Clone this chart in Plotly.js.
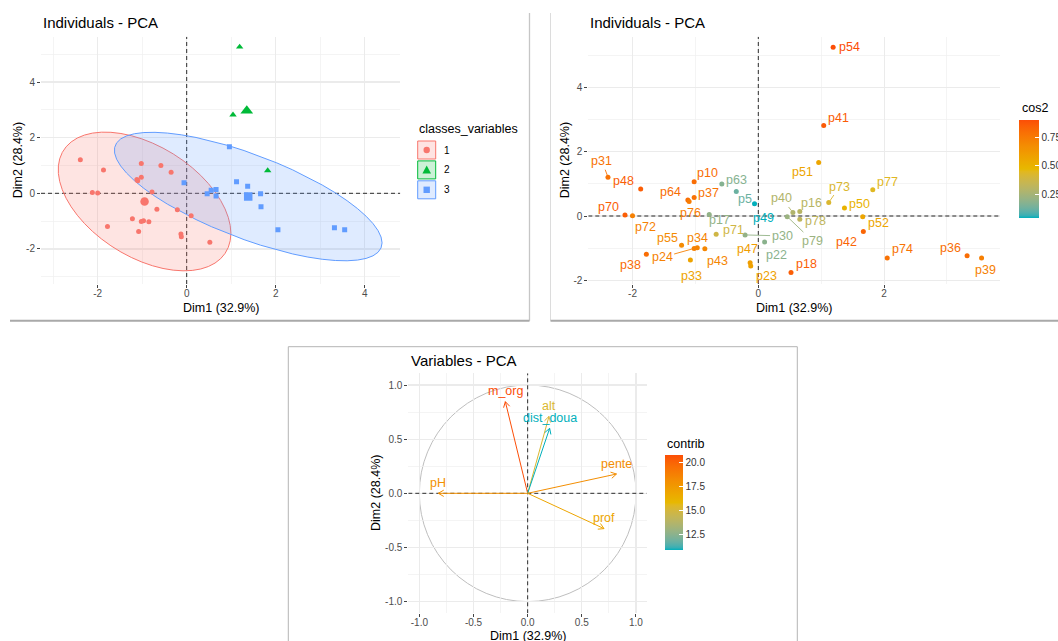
<!DOCTYPE html>
<html><head><meta charset="utf-8">
<script src="https://cdn.plot.ly/plotly-3.0.1.min.js"></script>
<style>html,body{margin:0;padding:0;background:#fff}#chart{width:1058px;height:641px}</style>
</head><body><div id="chart"></div>
<script>
// ---------- DATA ----------
const indNames = ['p54','p41','p77','p51','p31','p48','p10','p63','p64','p76','p37','p5','p49','p70','p72','p17','p40','p16','p73','p50','p52','p42','p78','p79','p71','p30','p22','p55','p34','p24','p43','p38','p33','p47','p23','p18','p74','p36','p39'];
const indDim1 = [1.19,1.04,1.82,0.96,-2.39,-1.87,-1.02,-0.58,-1.12,-1.10,-1.02,-0.35,-0.06,-2.12,-2.00,-0.78,0.55,0.66,1.12,1.37,1.66,1.67,0.66,0.46,-0.67,-0.21,0.10,-1.22,-0.97,-1.02,-0.85,-1.78,-1.08,-0.13,-0.12,0.52,2.05,3.32,3.55];
const indDim2 = [5.26,2.82,0.82,1.67,1.21,0.84,1.07,1.00,0.50,0.45,0.58,0.76,0.38,0.03,0.01,0.05,0.11,0.14,0.42,0.25,-0.02,-0.48,-0.10,-0.02,-0.57,-0.59,-0.81,-0.91,-0.99,-1.01,-1.02,-1.19,-1.37,-1.46,-1.56,-1.76,-1.31,-1.24,-1.31];
const indCos2 = [0.90,0.86,0.44,0.56,0.78,0.85,0.80,0.17,0.80,0.74,0.78,0.12,0.04,0.85,0.72,0.20,0.28,0.30,0.42,0.50,0.56,0.83,0.32,0.22,0.38,0.20,0.18,0.68,0.71,0.72,0.70,0.80,0.57,0.60,0.58,0.85,0.78,0.80,0.73];
const indClass = ['2','2','2','3','1','1','1','1','1','1','1','1','3','1','1','1','3','3','3','3','3','3','3','3','1','1','1','1','1','1','1','1','1','1','1','1','3','3','3'];
const classLevels = ['1','2','3'];

const varNames = ['m_org','alt','dist_doua','pente','pH','prof'];
const varDim1 = [-0.206,0.197,0.203,0.820,-0.825,0.705];
const varDim2 = [0.846,0.710,0.600,0.178,0.000,-0.326];
const varContrib = [20.76,15.29,10.95,18.10,18.00,16.90];

const indXTicks = [-2,0,2,4];
const indYTicks = [-2,0,2,4];
const ind2XTicks = [-2,0,2];
const intMinor = [-3,-1,1,3,5];
const varTicks = [-1,-0.5,0,0.5,1];
const varMinor = [-0.75,-0.25,0.25,0.75];
const cos2Ticks = [0.25,0.5,0.75];
const contribTicks = [12.5,15,17.5,20];
const titleInd = 'Individuals - PCA', titleVar = 'Variables - PCA';
const xTitle = 'Dim1 (32.9%)', yTitle = 'Dim2 (28.4%)';
const legendTitle = 'classes_variables', cos2Title = 'cos2', contribTitle = 'contrib';

// ---------- STYLE ----------
const W = 1058, H = 641;
const FONT = 'Liberation Sans, Arial, sans-serif';
const fx = p => p / W, fy = p => 1 - p / H;
const classColors = {'1':'#F8766D','2':'#00BA38','3':'#619CFF'};
const classSymbols = {'1':'circle','2':'triangle-up','3':'square'};
const classSizes = {'1':5,'2':6.5,'3':5};
const grad = ['#00AFBB','#E7B800','#FC4E07'];

// Lab interpolation (as ggplot's gradientn)
function hex2rgb(h){return [parseInt(h.slice(1,3),16),parseInt(h.slice(3,5),16),parseInt(h.slice(5,7),16)];}
const s2l = c => {c/=255; return c<=0.04045?c/12.92:Math.pow((c+0.055)/1.055,2.4);};
const l2s = c => {c=Math.max(0,Math.min(1,c)); return 255*(c<=0.0031308?12.92*c:1.055*Math.pow(c,1/2.4)-0.055);};
function rgb2lab(rgb){
  const [R,G,B]=rgb.map(s2l);
  const X=(0.4124*R+0.3576*G+0.1805*B)/0.95047, Y=(0.2126*R+0.7152*G+0.0722*B), Z=(0.0193*R+0.1192*G+0.9505*B)/1.08883;
  const f=t=>t>0.008856?Math.cbrt(t):7.787*t+16/116;
  const fX=f(X), fY=f(Y), fZ=f(Z);
  return [116*fY-16, 500*(fX-fY), 200*(fY-fZ)];
}
function lab2rgb([L,a,b]){
  const fY=(L+16)/116, fX=fY+a/500, fZ=fY-b/200;
  const fi=t=>t>0.206893?t*t*t:(t-16/116)/7.787;
  const X=fi(fX)*0.95047, Y=fi(fY), Z=fi(fZ)*1.08883;
  const R= 3.2406*X-1.5372*Y-0.4986*Z, G=-0.9689*X+1.8758*Y+0.0415*Z, B=0.0557*X-0.2040*Y+1.0570*Z;
  return [R,G,B].map(l2s).map(Math.round);
}
const gradLab = grad.map(h=>rgb2lab(hex2rgb(h)));
function colorT(t){
  t=Math.max(0,Math.min(1,t));
  const seg = t<0.5?0:1, u=(t-seg*0.5)/0.5;
  const A=gradLab[seg], B=gradLab[seg+1];
  const c = lab2rgb(A.map((x,i)=>x+(B[i]-x)*u));
  return 'rgb('+c.join(',')+')';
}
const colorscale = Array.from({length:41},(_,i)=>[i/40, colorT(i/40)]);
function rgba(h,a){const c=hex2rgb(h);return 'rgba('+c.join(',')+','+a+')';}
const fmtHyphen = v => String(v);
const fmt1 = v => v.toFixed(1);
const fmt2 = v => v.toFixed(2);

function axis(domain, range, ticks, minor, anchor, fmt){
  return {domain, range, anchor, autorange:false, fixedrange:true,
    tickmode:'array', tickvals:ticks, ticktext:ticks.map(fmt),
    showgrid:true, gridcolor:'#EBEBEB', gridwidth:1.1,
    minor:{tickmode:'array', tickvals:minor, showgrid:true, gridcolor:'#EFEFEF', gridwidth:0.7, ticks:''},
    zeroline:false, showline:false, ticks:'outside', ticklen:3, tickwidth:1, tickcolor:'#444',
    tickfont:{size:10, color:'#4D4D4D', family:FONT}};
}
const ranges = {
  x:[-3.274,4.80], y:[-3.26,5.63],
  x2:[-2.703,3.843], y2:[-2.12,5.59],
  x3:[-1.102,1.099], y3:[-1.108,1.108]
};

// ---------- TRACES ----------
const traces = [];
const n = indNames.length;
function qf2(p, m){ return (m/2)*(Math.pow(1-p,-2/m)-1); } // F(2,m) quantile

// dashed reference lines (geom_hline / geom_vline at 0)
const dashLine = {color:'rgba(0,0,0,0.82)', width:1, dash:'4px,3px'};
function refLines(xa, ya){
  const xr=ranges[xa], yr=ranges[ya];
  traces.push({type:'scatter', mode:'lines', x:[xr[0],xr[1],null,0,0], y:[0,0,null,yr[0],yr[1]],
    xaxis:xa, yaxis:ya, line:dashLine, hoverinfo:'skip', showlegend:false});
}
refLines('x','y');

// Panel 1 : ellipses (stat_ellipse type norm, level .95)
classLevels.forEach(c=>{
  const xs=[], ys=[];
  for(let i=0;i<n;i++) if(indClass[i]===c){xs.push(indDim1[i]); ys.push(indDim2[i]);}
  const k = xs.length;
  if(k<4) return;
  const mx = xs.reduce((a,b)=>a+b,0)/k, my = ys.reduce((a,b)=>a+b,0)/k;
  let sxx=0,syy=0,sxy=0;
  for(let i=0;i<k;i++){sxx+=(xs[i]-mx)**2; syy+=(ys[i]-my)**2; sxy+=(xs[i]-mx)*(ys[i]-my);}
  sxx/=k-1; syy/=k-1; sxy/=k-1;
  const a = Math.sqrt(sxx), b = sxy/a, d = Math.sqrt(syy - b*b);
  const r = Math.sqrt(2*qf2(0.95, k-1));
  const ex=[], ey=[];
  for(let j=0;j<=51;j++){
    const th = 2*Math.PI*j/51, u=Math.cos(th), v=Math.sin(th);
    ex.push(mx + r*(u*a)); ey.push(my + r*(u*b + v*d));
  }
  traces.push({type:'scatter', mode:'lines', x:ex, y:ey, xaxis:'x', yaxis:'y', fill:'toself',
    fillcolor:rgba(classColors[c],0.2), line:{color:classColors[c], width:1}, hoverinfo:'skip', showlegend:false});
});
// Panel 1 : points and group means
classLevels.forEach(c=>{
  const xs=[], ys=[];
  for(let i=0;i<n;i++) if(indClass[i]===c){xs.push(indDim1[i]); ys.push(indDim2[i]);}
  traces.push({type:'scatter', mode:'markers', x:xs, y:ys, xaxis:'x', yaxis:'y', showlegend:false,
    marker:{color:classColors[c], symbol:classSymbols[c], size:classSizes[c], line:{width:0}}});
  const mx = xs.reduce((a,b)=>a+b,0)/xs.length, my = ys.reduce((a,b)=>a+b,0)/ys.length;
  traces.push({type:'scatter', mode:'markers', x:[mx], y:[my], xaxis:'x', yaxis:'y', showlegend:false,
    marker:{color:classColors[c], symbol:classSymbols[c], size:classSizes[c]*1.7, line:{width:0}}});
});
// Panel 2
refLines('x2','y2');
const cLo = Math.min(...indCos2), cHi = Math.max(...indCos2);
const cbCommon = {xpad:0, ypad:0, outlinewidth:0, ticks:'inside', ticklen:4, tickwidth:1, tickcolor:'#ffffff',
  tickmode:'array', tickprefix:'\u00A0\u00A0', tickfont:{size:10,color:'#333',family:FONT}, lenmode:'pixels', thicknessmode:'pixels', xanchor:'left', yanchor:'top'};
traces.push({type:'scatter', mode:'markers', x:indDim1, y:indDim2, xaxis:'x2', yaxis:'y2', showlegend:false,
  marker:{size:5, color:indCos2, colorscale:colorscale, cmin:cLo, cmax:cHi, showscale:true, line:{width:0},
  colorbar:Object.assign({}, cbCommon, {x:fx(1019.3), y:fy(120), len:98, thickness:19.5, tickvals:cos2Ticks, ticktext:cos2Ticks.map(fmt2)})}});
// Panel 3
refLines('x3','y3');
const vLo = Math.min(...varContrib), vHi = Math.max(...varContrib);
const headLen = 0.058, headAng = Math.PI/6;
for(let i=0;i<varNames.length;i++){
  const xt=varDim1[i], yt=varDim2[i], th=Math.atan2(yt,xt);
  const col = colorT((varContrib[i]-vLo)/(vHi-vLo));
  traces.push({type:'scatter', mode:'lines', xaxis:'x3', yaxis:'y3', showlegend:false, hoverinfo:'skip',
    x:[0, xt, null, xt-headLen*Math.cos(th+headAng), xt, xt-headLen*Math.cos(th-headAng)],
    y:[0, yt, null, yt-headLen*Math.sin(th+headAng), yt, yt-headLen*Math.sin(th-headAng)],
    line:{color:col, width:1}});
}
traces.push({type:'scatter', mode:'markers', x:varDim1, y:varDim2, xaxis:'x3', yaxis:'y3', showlegend:false, hoverinfo:'skip',
  marker:{size:0.1, opacity:0.01, color:varContrib, colorscale:colorscale, cmin:vLo, cmax:vHi, showscale:true,
  colorbar:Object.assign({}, cbCommon, {x:fx(665.3), y:fy(455), len:95, thickness:18, tickvals:contribTicks, ticktext:contribTicks.map(fmt1)})}});

// ---------- ANNOTATIONS ----------
const ann = [];
// label placement (pixel offsets: right, down; 1 = repel segment)
const labelOffsets = {p54:[16,0],p41:[15,-8],p51:[-16,10],p31:[-6,-16,1],p48:[-17,-8],p10:[13,-9],p63:[15,-4],p64:[-17,-8],
  p76:[1,11],p37:[14,-4],p5:[9,7],p49:[9,14],p70:[-16,-8],p72:[13,11],p17:[10,6],p40:[-11,-14,1],p16:[12,-9],p73:[11,-16,1],
  p77:[15,-8],p50:[15,-4],p52:[16,6],p42:[-17,11],p78:[16,2],p79:[25,24,1],p71:[17,-4],p30:[37,1,1],p22:[12,13],p55:[-14,-7],
  p34:[0,-10],p24:[-32,9,1],p43:[13,12],p38:[-16,11],p33:[1,16],p47:[-3,-14],p23:[16,10],p18:[15,-8],p74:[15,-9],p36:[-17,-8],p39:[4,12]};
for(let i=0;i<n;i++){
  const o = labelOffsets[indNames[i]] || [0,-10];
  const col = colorT((indCos2[i]-cLo)/(cHi-cLo));
  const base = {x:indDim1[i], y:indDim2[i], xref:'x2', yref:'y2', text:indNames[i], font:{size:12.5,color:col,family:FONT}};
  if(o[2]) ann.push(Object.assign(base,{showarrow:true, ax:o[0], ay:o[1], arrowhead:0, arrowwidth:0.9, arrowcolor:col, standoff:2}));
  else ann.push(Object.assign(base,{showarrow:false, xshift:o[0], yshift:-o[1], xanchor:'center', yanchor:'middle'}));
}
for(let i=0;i<varNames.length;i++){
  const col = colorT((varContrib[i]-vLo)/(vHi-vLo));
  ann.push({x:varDim1[i], y:varDim2[i], xref:'x3', yref:'y3', text:varNames[i], showarrow:false, yshift:10.5,
    xanchor:'center', yanchor:'middle', font:{size:12.5,color:col,family:FONT}});
}
const T = (text,x,y,size,opts) => Object.assign({text, x:fx(x), y:fy(y), xref:'paper', yref:'paper', showarrow:false,
  xanchor:'center', yanchor:'middle', font:{size, color:'#000', family:FONT}}, opts||{});
ann.push(T(titleInd,41,22.5,15,{xanchor:'left'}));
ann.push(T(titleInd,588.3,22,15,{xanchor:'left'}));
ann.push(T(titleVar,408.8,360,15,{xanchor:'left'}));
ann.push(T(xTitle,220.5,308,12.5));
ann.push(T(yTitle,18,160.3,12.5,{textangle:-90}));
ann.push(T(xTitle,794.2,308.3,12.5));
ann.push(T(yTitle,565,160.3,12.5,{textangle:-90}));
ann.push(T(xTitle,527.5,636,12.5));
ann.push(T(yTitle,376.7,493.3,12.5,{textangle:-90}));
ann.push(T(cos2Title,1019.5,108,12.5,{xanchor:'left'}));
ann.push(T(contribTitle,665,444,12.5,{xanchor:'left'}));
ann.push(T(legendTitle,416.7,129,12.5,{xanchor:'left'}));

// ---------- SHAPES ----------
const shapes = [];
shapes.push({type:'circle', xref:'x3', yref:'y3', x0:-1, x1:1, y0:-1, y1:1, line:{color:'#BEBEBE', width:1}, layer:'below'});
classLevels.forEach((c,k)=>{
  const top = 141 + k*19.9, cy = top + 9, cx = 426.7;
  shapes.push({type:'rect', xref:'paper', yref:'paper', x0:fx(417.7), x1:fx(435.7), y0:fy(top+18), y1:fy(top),
    fillcolor:rgba(classColors[c],0.2), line:{color:classColors[c], width:1}});
  if(classSymbols[c]==='circle')
    shapes.push({type:'circle', xref:'paper', yref:'paper', x0:fx(cx-3.2), x1:fx(cx+3.2), y0:fy(cy+3.2), y1:fy(cy-3.2),
      fillcolor:classColors[c], line:{width:0}});
  else if(classSymbols[c]==='square')
    shapes.push({type:'rect', xref:'paper', yref:'paper', x0:fx(cx-3.2), x1:fx(cx+3.2), y0:fy(cy+3.2), y1:fy(cy-3.2),
      fillcolor:classColors[c], line:{width:0}});
  else
    shapes.push({type:'path', xref:'paper', yref:'paper', fillcolor:classColors[c], line:{width:0},
      path:`M${fx(cx)},${fy(cy-4.3)} L${fx(cx+4.3)},${fy(cy+3.5)} L${fx(cx-4.3)},${fy(cy+3.5)} Z`});
  ann.push(T(c,442,cy,10,{xanchor:'left'}));
});
const L = (x0,y0,x1,y1,color,width) => ({type:'line', xref:'paper', yref:'paper', x0:fx(x0), y0:fy(y0), x1:fx(x1), y1:fy(y1), line:{color,width}});
shapes.push(L(529.5,13,529.5,320.7,'#C6C6C6',1.3));
shapes.push(L(10,320.7,529.5,320.7,'#A9A9A9',2));
shapes.push(L(550.5,13,550.5,320.7,'#DCDCDC',1));
shapes.push(L(550.5,320.7,1058,320.7,'#A9A9A9',2));
shapes.push(L(288.3,346.7,797.3,346.7,'#B4B4B4',1));
shapes.push(L(288.3,346.7,288.3,641,'#B4B4B4',1));
shapes.push(L(797.3,346.7,797.3,641,'#B4B4B4',1));

// ---------- LAYOUT ----------
const xa = (d,k,t,m,an,f) => Object.assign(axis(d,ranges[k],t,m,an,f),{ticklabelstandoff:-3});
const layout = {
  width:W, height:H, autosize:false, margin:{l:0,r:0,t:0,b:0,pad:0,autoexpand:false},
  paper_bgcolor:'#fff', plot_bgcolor:'rgba(0,0,0,0)', font:{family:FONT, size:11, color:'#000'},
  showlegend:false, hovermode:false,
  xaxis: xa([fx(41),fx(400.3)], 'x', indXTicks, intMinor, 'y', fmtHyphen),
  yaxis: axis([fy(284),fy(36.7)], ranges.y, indYTicks, intMinor, 'x', fmtHyphen),
  xaxis2: xa([fx(588.3),fx(1000)], 'x2', ind2XTicks, intMinor, 'y2', fmtHyphen),
  yaxis2: axis([fy(284),fy(36.7)], ranges.y2, indYTicks, intMinor, 'x2', fmtHyphen),
  xaxis3: xa([fx(408.3),fx(646.7)], 'x3', varTicks, varMinor, 'y3', fmt1),
  yaxis3: axis([fy(613.3),fy(373.3)], ranges.y3, varTicks, varMinor, 'x3', fmt1),
  shapes, annotations:ann
};
Plotly.newPlot('chart', traces, layout, {staticPlot:true, displayModeBar:false});
</script></body></html>
